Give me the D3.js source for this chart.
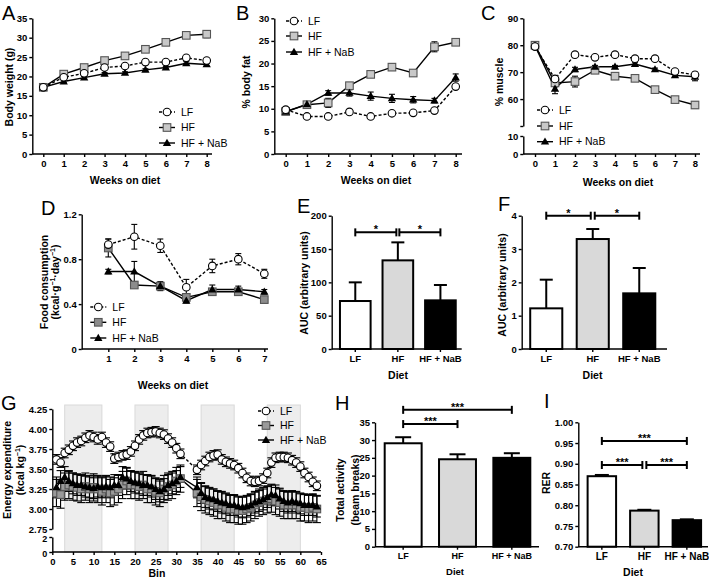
<!DOCTYPE html>
<html>
<head>
<meta charset="utf-8">
<script src="https://cdn.jsdelivr.net/npm/d3@7"></script>
<style>
    body { margin: 0; background: #fff; }
    svg { font-family: "Liberation Sans", Arial, sans-serif; }
    .axis .tick text { font-size: 9.5px; font-weight: bold; fill: #000; }
    .axis path, .axis line { stroke: #000; stroke-width: 1.4; }
</style>
</head>
<body>
<svg id="fig" width="709" height="580"></svg>
<script>
// ---- data ----
var groups = ['LF', 'HF', 'HF + NaB'];
var weeks = [0, 1, 2, 3, 4, 5, 6, 7, 8];
var foodWeeks = [1, 2, 3, 4, 5, 6, 7];

// A: body weight (g)
var bwLF = [17.2, 19.8, 20.8, 22.3, 22.7, 23.7, 23.7, 24.8, 24.1];
var bwHF = [17.2, 20.6, 22.3, 24.1, 25.3, 27.0, 28.8, 30.6, 30.9];
var bwNaB = [17.2, 18.7, 19.7, 20.7, 20.9, 21.7, 22.3, 23.4, 23.1];
var bwLFErr = [0.3, 0.3, 0.3, 0.3, 0.3, 0.3, 0.3, 0.4, 0.4];
var bwHFErr = [0.3, 0.5, 0.4, 0.4, 0.4, 0.5, 0.7, 0.7, 0.9];
var bwNaBErr = [0.3, 0.3, 0.3, 0.3, 0.3, 0.3, 0.3, 0.4, 0.4];

// B: % body fat
var fatLF = [9.8, 8.3, 8.3, 9.3, 8.3, 9.0, 9.1, 9.6, 14.9];
var fatHF = [9.4, 10.9, 11.3, 15.1, 17.6, 19.2, 17.9, 23.7, 24.7];
var fatNaB = [9.3, 11.0, 13.5, 13.5, 12.8, 12.3, 12.0, 11.8, 16.9];
var fatLFErr = [0.3, 0.3, 0.3, 0.3, 0.3, 0.3, 0.3, 0.3, 0.4];
var fatHFErr = [0.3, 0.5, 1.0, 0.5, 0.3, 0.7, 0.6, 1.1, 0.7];
var fatNaBErr = [0.3, 0.5, 0.5, 0.7, 0.9, 0.9, 0.7, 0.5, 0.8];

// C: % muscle
var musLF = [79.5, 67.5, 76.5, 75.5, 76.5, 75.0, 75.0, 70.2, 69.0];
var musHF = [80.0, 66.0, 66.5, 70.7, 68.5, 67.7, 63.5, 59.8, 57.8];
var musNaB = [79.8, 63.8, 71.0, 72.0, 72.0, 73.0, 71.0, 68.8, 68.3];
var musLFErr = [0.5, 0.5, 0.5, 0.5, 0.5, 0.5, 0.5, 0.6, 1.0];
var musHFErr = [0.5, 1.0, 2.0, 0.8, 0.5, 0.5, 0.5, 0.5, 1.2];
var musNaBErr = [0.5, 1.8, 0.8, 0.5, 0.5, 0.5, 0.5, 0.5, 1.5];

// D: food consumption
var foodLF = [0.93, 1.00, 0.92, 0.55, 0.74, 0.80, 0.67];
var foodHF = [0.90, 0.57, 0.56, 0.46, 0.51, 0.51, 0.44];
var foodNaB = [0.69, 0.69, 0.56, 0.43, 0.53, 0.53, 0.51];
var foodLFErr = [0.05, 0.11, 0.06, 0.07, 0.06, 0.05, 0.04];
var foodHFErr = [0.08, 0.02, 0.02, 0.03, 0.02, 0.02, 0.02];
var foodNaBErr = [0.02, 0.09, 0.04, 0.02, 0.04, 0.03, 0.02];

// E, F: AUC
var aucE = [72, 133, 73];
var aucEErr = [28, 27, 23];
var aucF = [1.22, 3.30, 1.67];
var aucFErr = [0.86, 0.30, 0.76];

// G: energy expenditure per bin (bins 32-34 missing)
var gBins = d3.range(1, 32).concat(d3.range(35, 65));
var eeLF = [3.62, 3.58, 3.70, 3.74, 3.79, 3.83, 3.85, 3.89, 3.92, 3.90, 3.87, 3.90, 3.83, 3.78, 3.63, 3.65,
    3.67, 3.68, 3.72, 3.79, 3.87, 3.92, 3.95, 3.96, 3.97, 3.95, 3.93, 3.88, 3.83, 3.76, 3.69,
    3.49, 3.55, 3.60, 3.65, 3.67, 3.68, 3.62, 3.59, 3.57, 3.55, 3.51, 3.45, 3.39, 3.35, 3.34,
    3.35, 3.38, 3.45, 3.58, 3.64, 3.65, 3.65, 3.64, 3.61, 3.58, 3.53, 3.45, 3.40, 3.34, 3.29];
var eeHF = [3.20, 3.18, 3.28, 3.30, 3.28, 3.27, 3.25, 3.28, 3.25, 3.27, 3.25, 3.22, 3.25, 3.20, 3.22, 3.25,
    3.30, 3.35, 3.30, 3.30, 3.28, 3.30, 3.25, 3.25, 3.22, 3.20, 3.25, 3.28, 3.30, 3.35, 3.38,
    3.20, 3.15, 3.12, 3.10, 3.08, 3.05, 3.05, 3.02, 3.00, 3.00, 2.98, 2.98, 3.00, 3.02, 3.05,
    3.08, 3.10, 3.12, 3.13, 3.10, 3.08, 3.05, 3.05, 3.05, 3.05, 3.02, 3.02, 3.00, 3.02, 3.00];
var eeNaB = [3.27, 3.35, 3.40, 3.35, 3.32, 3.30, 3.30, 3.28, 3.27, 3.26, 3.28, 3.27, 3.28, 3.27, 3.30, 3.30,
    3.40, 3.38, 3.35, 3.33, 3.32, 3.30, 3.30, 3.28, 3.25, 3.22, 3.25, 3.30, 3.32, 3.35, 3.40,
    3.27, 3.20, 3.15, 3.13, 3.12, 3.10, 3.08, 3.07, 3.05, 3.05, 3.03, 3.02, 3.03, 3.05, 3.08,
    3.10, 3.12, 3.15, 3.18, 3.17, 3.13, 3.10, 3.08, 3.10, 3.08, 3.07, 3.05, 3.05, 3.05, 3.03];
var eeLFErr = 0.06, eeHFErr = 0.17, eeNaBErr = 0.13;
var darkBins = [[3, 12], [20, 28], [36, 44], [52, 60]];

// H: total activity, I: RER
var activity = [29.1, 24.6, 25.0];
var activityErr = [1.7, 1.4, 1.3];
var rer = [0.870, 0.787, 0.764];
var rerErr = [0.003, 0.002, 0.002];

// ---- drawing ----
var svg = d3.select('#fig');
var intFmt = d3.format('d');

function addParts(t, parts) {
    if (typeof parts === 'string') { t.text(parts); return; }
    var back = 0;
    parts.forEach(function (p) {
        var s = t.append('tspan').text(p.t);
        if (p.sup) { s.attr('dy', -4).attr('font-size', '7px'); back = 4; }
        else if (back) { s.attr('dy', back); back = 0; }
    });
}

function hTitle(g, x, y, parts, size) {
    var t = g.append('text').attr('x', x).attr('y', y).attr('dy', '0.35em')
        .attr('text-anchor', 'middle').attr('font-weight', 'bold')
        .attr('font-size', (size || 10.5) + 'px');
    addParts(t, parts);
}

function vTitle(g, x, y, parts, size) {
    var t = g.append('text').attr('transform', 'translate(' + x + ',' + y + ') rotate(-90)')
        .attr('dy', '0.35em').attr('text-anchor', 'middle').attr('font-weight', 'bold')
        .attr('font-size', (size || 10.5) + 'px');
    addParts(t, parts);
}

function panelLabel(x, y, s) {
    svg.append('text').attr('x', x).attr('y', y).attr('font-size', '20px').text(s);
}

function yAxis(g, x, scale, ticks, fmt) {
    var ax = d3.axisLeft(scale).tickValues(ticks).tickSize(3).tickSizeOuter(0).tickPadding(2)
        .tickFormat(fmt || intFmt);
    return g.append('g').attr('class', 'axis').attr('transform', 'translate(' + x + ',0)').call(ax);
}

function xAxis(g, y, scale, ticks, x0, x1, fontSize) {
    var ax = d3.axisBottom(scale).tickSize(3).tickSizeOuter(0).tickPadding(3);
    if (ticks) ax.tickValues(ticks).tickFormat(intFmt);
    var a = g.append('g').attr('class', 'axis').attr('transform', 'translate(0,' + y + ')').call(ax);
    a.select('.domain').remove();
    a.append('line').attr('x1', x0).attr('x2', x1).attr('stroke', '#000').attr('stroke-width', 1.4);
    if (fontSize) a.selectAll('.tick text').style('font-size', fontSize + 'px');
}

function marker(g, type, cx, cy, hfFill) {
    if (type === 'LF') {
        g.append('circle').attr('cx', cx).attr('cy', cy).attr('r', 3.8)
            .attr('fill', '#fff').attr('stroke', '#000').attr('stroke-width', 1.1);
    } else if (type === 'HF') {
        g.append('rect').attr('x', cx - 3.8).attr('y', cy - 3.8).attr('width', 7.6).attr('height', 7.6)
            .attr('fill', hfFill).attr('stroke', '#555').attr('stroke-width', 1.1);
    } else {
        g.append('path').attr('transform', 'translate(' + cx + ',' + (cy + 0.5) + ')')
            .attr('d', d3.symbol(d3.symbolTriangle, 30)()).attr('fill', '#000');
    }
}

function legend(g, lg, hfFill) {
    var types = ['LF', 'HF', 'NaB'];
    types.forEach(function (tp, i) {
        var yy = lg.y[i];
        var ln = g.append('line').attr('x1', lg.x - 8).attr('x2', lg.x + 8).attr('y1', yy).attr('y2', yy)
            .attr('stroke', '#000').attr('stroke-width', 1.4);
        if (tp === 'LF') ln.attr('stroke-dasharray', '3,2');
        marker(g, tp, lg.x, yy, hfFill);
        g.append('text').attr('x', lg.x + 14).attr('y', yy).attr('dy', '0.35em')
            .attr('font-size', '10.5px').text(groups[i]);
    });
}

function linePanel(p) {
    var g = svg.append('g');
    var x = d3.scaleLinear().domain(p.xDom).range(p.xRng);
    var y = d3.scaleLinear().domain(p.yDom).range(p.yRng);

    if (p.bands) {
        p.bands.forEach(function (b) {
            g.append('rect').attr('x', x(b[0])).attr('width', x(b[1]) - x(b[0]))
                .attr('y', p.bandTop).attr('height', p.base - p.bandTop)
                .attr('fill', '#ededed').attr('stroke', '#d9d9d9').attr('stroke-width', 1);
        });
    }

    yAxis(g, p.axisX, y, p.yTicks, p.yFmt);
    if (p.low) {
        var y2 = d3.scaleLinear().domain(p.low.dom).range(p.low.rng);
        var lowAx = yAxis(g, p.axisX, y2, p.low.ticks, intFmt);
        if (p.low.shift) lowAx.selectAll('.tick text').attr('dy', p.low.shift).style('font-size', '9px');
    }
    xAxis(g, p.base, x, p.xTicks, p.axisX, p.xEnd);

    var cap = p.cap || 3;
    p.series.forEach(function (s) {
        s.vals.forEach(function (v, i) {
            var e = typeof s.err === 'number' ? s.err : s.err[i];
            var cx = x(p.xs[i]);
            g.append('line').attr('x1', cx).attr('x2', cx).attr('y1', y(v - e)).attr('y2', y(v + e))
                .attr('stroke', '#000').attr('stroke-width', 1.1);
            [v - e, v + e].forEach(function (w) {
                g.append('line').attr('x1', cx - cap).attr('x2', cx + cap).attr('y1', y(w)).attr('y2', y(w))
                    .attr('stroke', '#000').attr('stroke-width', 1.1);
            });
        });
    });

    var line = d3.line().x(function (d) { return x(d[0]); }).y(function (d) { return y(d[1]); });
    p.series.forEach(function (s) {
        var path = g.append('path').datum(s.vals.map(function (v, i) { return [p.xs[i], v]; }))
            .attr('d', line).attr('fill', 'none').attr('stroke', '#000').attr('stroke-width', 1.4);
        if (s.type === 'LF') path.attr('stroke-dasharray', '3,2');
    });

    p.series.forEach(function (s) {
        s.vals.forEach(function (v, i) { marker(g, s.type, x(p.xs[i]), y(v), p.hfFill); });
    });

    legend(g, p.legend, p.hfFill);
    return g;
}

function barPanel(p) {
    var g = svg.append('g');
    var x = d3.scaleBand().domain(groups).range(p.bandRng).paddingInner(p.pi).paddingOuter(p.po);
    var y = d3.scaleLinear().domain(p.yDom).range(p.yRng);
    var fills = ['#fff', '#d9d9d9', '#000'];

    yAxis(g, p.axisX, y, p.yTicks, p.yFmt);

    p.vals.forEach(function (v, i) {
        var cx = x(groups[i]) + x.bandwidth() / 2;
        g.append('line').attr('x1', cx).attr('x2', cx).attr('y1', y(v)).attr('y2', y(v + p.errs[i]))
            .attr('stroke', '#000').attr('stroke-width', 2);
        g.append('line').attr('x1', cx - p.cap).attr('x2', cx + p.cap)
            .attr('y1', y(v + p.errs[i])).attr('y2', y(v + p.errs[i]))
            .attr('stroke', '#000').attr('stroke-width', 2);
        g.append('rect').attr('x', x(groups[i])).attr('width', x.bandwidth())
            .attr('y', y(v)).attr('height', y(p.yDom[0]) - y(v))
            .attr('fill', fills[i]).attr('stroke', '#000').attr('stroke-width', 2);
    });

    xAxis(g, y(p.yDom[0]), x, null, p.axisX, p.xEnd, p.tickFont);

    p.brackets.forEach(function (b) {
        var x1 = x(groups[b.a]) + x.bandwidth() / 2 + (b.ta || 0);
        var x2 = x(groups[b.b]) + x.bandwidth() / 2 - (b.tb || 0);
        var yy = y(b.v);
        g.append('line').attr('x1', x1).attr('x2', x2).attr('y1', yy).attr('y2', yy)
            .attr('stroke', '#000').attr('stroke-width', 2);
        [x1, x2].forEach(function (xx) {
            g.append('line').attr('x1', xx).attr('x2', xx).attr('y1', yy - 4).attr('y2', yy + 4)
                .attr('stroke', '#000').attr('stroke-width', 2);
        });
        g.append('text').attr('x', (x1 + x2) / 2).attr('y', yy + 1).attr('text-anchor', 'middle')
            .attr('font-size', '11px').attr('font-weight', 'bold').text(b.label);
    });
    return g;
}

// A
var gA = linePanel({
    xs: weeks, xDom: [0, 8], xRng: [43.3, 206.7], xTicks: weeks, axisX: 32.3, xEnd: 212, base: 154,
    yDom: [0, 35], yRng: [154, 18.3], yTicks: d3.range(0, 36, 5), hfFill: '#c8c8c8',
    series: [
        { type: 'HF', vals: bwHF, err: bwHFErr },
        { type: 'NaB', vals: bwNaB, err: bwNaBErr },
        { type: 'LF', vals: bwLF, err: bwLFErr }
    ],
    legend: { x: 167, y: [112, 127.5, 143] }
});
hTitle(gA, 125, 180, 'Weeks on diet');
vTitle(gA, 9, 87, 'Body weight (g)');
panelLabel(2, 20, 'A');

// B
var gB = linePanel({
    xs: weeks, xDom: [0, 8], xRng: [285.7, 455.7], xTicks: weeks, axisX: 274.3, xEnd: 462, base: 154,
    yDom: [0, 30], yRng: [154, 18.3], yTicks: d3.range(0, 31, 5), hfFill: '#c8c8c8',
    series: [
        { type: 'HF', vals: fatHF, err: fatHFErr },
        { type: 'NaB', vals: fatNaB, err: fatNaBErr },
        { type: 'LF', vals: fatLF, err: fatLFErr }
    ],
    legend: { x: 294, y: [21, 36, 52] }
});
hTitle(gB, 376, 180, 'Weeks on diet');
vTitle(gB, 246.7, 82, '% body fat');
panelLabel(236, 20, 'B');

// C (broken y axis)
var gC = linePanel({
    xs: weeks, xDom: [0, 8], xRng: [535, 695], xTicks: weeks, axisX: 523.3, xEnd: 700, base: 154,
    yDom: [50, 90], yRng: [126, 18.3], yTicks: [50, 60, 70, 80, 90],
    yFmt: function (d) { return d === 50 ? '' : d; }, hfFill: '#c8c8c8',
    low: { dom: [0, 10], rng: [154, 136], ticks: [0, 10] },
    series: [
        { type: 'HF', vals: musHF, err: musHFErr },
        { type: 'NaB', vals: musNaB, err: musNaBErr },
        { type: 'LF', vals: musLF, err: musLFErr }
    ],
    legend: { x: 545, y: [110, 126, 141.7] }
});
hTitle(gC, 618, 182.7, 'Weeks on diet');
vTitle(gC, 499, 82, '% muscle');
panelLabel(481, 20, 'C');

// D
var gD = linePanel({
    xs: foodWeeks, xDom: [1, 7], xRng: [108.3, 264.3], xTicks: foodWeeks, axisX: 81.7, xEnd: 268, base: 349,
    yDom: [0, 1.2], yRng: [349, 214.3], yTicks: [0, 0.4, 0.8, 1.2],
    yFmt: function (d) { return d === 0 ? '0' : d3.format('.1f')(d); }, hfFill: '#8c8c8c',
    series: [
        { type: 'HF', vals: foodHF, err: foodHFErr },
        { type: 'NaB', vals: foodNaB, err: foodNaBErr },
        { type: 'LF', vals: foodLF, err: foodLFErr }
    ],
    legend: { x: 98.3, y: [307, 322.3, 338] }
});
hTitle(gD, 173, 385, 'Weeks on diet');
vTitle(gD, 44.5, 282, 'Food consumption');
vTitle(gD, 55, 282, [{ t: '(kcal·g' }, { t: '−1', sup: true }, { t: '·day' }, { t: '−1', sup: true }, { t: ')' }]);
panelLabel(41, 215, 'D');

// E
var gE = barPanel({
    vals: aucE, errs: aucEErr, bandRng: [334, 461.7], pi: 0.28, po: 0.14,
    yDom: [0, 200], yRng: [349, 215.7], yTicks: d3.range(0, 201, 50), axisX: 331.7, xEnd: 461.7, cap: 6.5,
    brackets: [
        { a: 0, b: 1, v: 175, label: '*', tb: 1.5 },
        { a: 1, b: 2, v: 175, label: '*', ta: 1.5 }
    ]
});
hTitle(gE, 398, 375, 'Diet');
vTitle(gE, 304, 283, 'AUC (arbitrary units)');
panelLabel(297, 213, 'E');

// F
var gF = barPanel({
    vals: aucF, errs: aucFErr, bandRng: [523, 662.5], pi: 0.31, po: 0.155,
    yDom: [0, 4], yRng: [349, 215.7], yTicks: [0, 1, 2, 3, 4], axisX: 521.7, xEnd: 667, cap: 6.5,
    brackets: [
        { a: 0, b: 1, v: 4, label: '*', tb: 2 },
        { a: 1, b: 2, v: 4, label: '*', ta: 2 }
    ]
});
hTitle(gF, 592.5, 375, 'Diet');
vTitle(gF, 502.5, 285, 'AUC (arbitrary units)');
panelLabel(498, 211, 'F');

// G (broken y axis, dark-phase shading)
var gG = linePanel({
    xs: gBins, xDom: [0, 65], xRng: [52.3, 321], xTicks: d3.range(0, 66, 5), axisX: 52.3, xEnd: 321, base: 552,
    yDom: [2.75, 4.25], yRng: [529, 409], yTicks: [2.75, 3.00, 3.25, 3.50, 3.75, 4.00, 4.25],
    yFmt: d3.format('.2f'), hfFill: '#9a9a9a', cap: 4,
    low: { dom: [0, 2], rng: [552, 537], ticks: [0, 2], shift: '0.55em' },
    bands: darkBins, bandTop: 405,
    series: [
        { type: 'HF', vals: eeHF, err: eeHFErr },
        { type: 'NaB', vals: eeNaB, err: eeNaBErr },
        { type: 'LF', vals: eeLF, err: eeLFErr }
    ],
    legend: { x: 266, y: [411, 425.5, 440] }
});
hTitle(gG, 157, 573, 'Bin');
vTitle(gG, 7.5, 470, 'Energy expenditure');
vTitle(gG, 20, 470, [{ t: '(kcal kg' }, { t: '−1', sup: true }, { t: ')' }]);
panelLabel(1, 410, 'G');

// H
var gH = barPanel({
    vals: activity, errs: activityErr, bandRng: [376, 539], pi: 0.32, po: 0.16,
    yDom: [0, 35], yRng: [546.7, 422.3], yTicks: d3.range(0, 36, 5), axisX: 375, xEnd: 539, cap: 8,
    tickFont: 9,
    brackets: [
        { a: 0, b: 2, v: 38.5, label: '***' },
        { a: 0, b: 1, v: 34.5, label: '***' }
    ]
});
hTitle(gH, 455, 572, 'Diet', 9.5);
vTitle(gH, 340, 490, 'Total activity');
vTitle(gH, 355, 490, '(beam breaks)');
panelLabel(335, 410, 'H');

// I
var gI = barPanel({
    vals: rer, errs: rerErr, bandRng: [580.6, 708.1], pi: 0.33, po: 0.165,
    yDom: [0.70, 1.00], yRng: [546.7, 422.3], yTicks: [0.70, 0.75, 0.80, 0.85, 0.90, 0.95, 1.00],
    yFmt: d3.format('.2f'), axisX: 578.3, xEnd: 708, cap: 7,
    tickFont: 10,
    brackets: [
        { a: 0, b: 2, v: 0.955, label: '***' },
        { a: 0, b: 1, v: 0.897, label: '***', tb: 2 },
        { a: 1, b: 2, v: 0.897, label: '***', ta: 2 }
    ]
});
hTitle(gI, 633, 572, 'Diet');
vTitle(gI, 546.5, 483, 'RER');
panelLabel(544, 408, 'I');
</script>
</body>
</html>
